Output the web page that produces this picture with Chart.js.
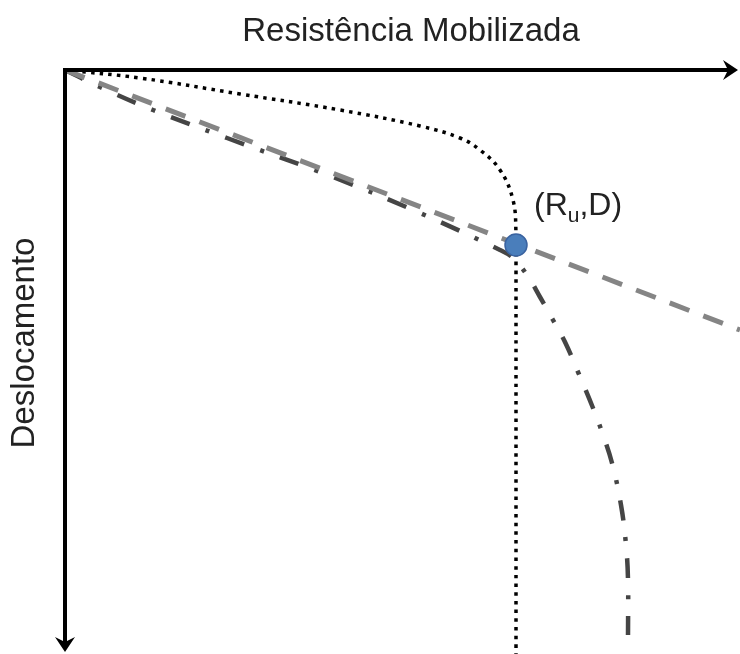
<!DOCTYPE html>
<html>
<head>
<meta charset="utf-8">
<script src="https://cdn.jsdelivr.net/npm/chart.js@4"></script>
<style>
  body { margin: 0; background: #fff; }
  canvas { display: block; }
</style>
</head>
<body>
<canvas id="curvaCarga" width="740" height="654"></canvas>
<script>
// curva pontilhada (hiperbólica, assíntota vertical em Ru)
const dotX = [0, 75, 175, 275, 355, 395, 415, 435, 448, 451, 451, 451];
const dotY = [0, 8, 24, 40, 56, 68, 80, 100, 130, 163, 195, 584];

// curva traço-ponto
const dashDotX = [0, 35, 88, 162, 268, 355, 435, 448, 462, 475, 488, 500, 513, 528, 537, 547, 556, 561, 563, 563];
const dashDotY = [0, 17, 40, 68, 107, 143, 180, 188, 205, 227, 250, 272, 302, 338, 362, 393, 435, 475, 510, 565];

// reta tracejada
const dashX = [0, 675];
const dashY = [0, 260];

// ponto (Ru, D)
const ruX = [451];
const ruY = [175];

const xTitle = 'Resistência Mobilizada';
const yTitle = 'Deslocamento';

const toXY = (xs, ys) => xs.map((x, i) => ({ x: x, y: ys[i] }));

function arrowHead(ctx, x, y, angle) {
    ctx.save();
    ctx.translate(x, y);
    ctx.rotate(angle);
    ctx.beginPath();
    ctx.moveTo(0, 0);
    ctx.lineTo(-15, -10);
    ctx.lineTo(-10, 0);
    ctx.lineTo(-15, 10);
    ctx.closePath();
    ctx.fill();
    ctx.restore();
}

const eixos = {
    id: 'eixos',
    afterDatasetsDraw(chart) {
        const ctx = chart.ctx;
        const xs = chart.scales.x, ys = chart.scales.y;
        const ox = xs.getPixelForValue(0), oy = ys.getPixelForValue(0);
        const xEnd = xs.getPixelForValue(673), yEnd = ys.getPixelForValue(582);
        ctx.save();
        ctx.strokeStyle = '#000';
        ctx.fillStyle = '#000';
        ctx.lineWidth = 4;
        ctx.lineCap = 'butt';
        ctx.beginPath();
        ctx.moveTo(ox - 2, oy);
        ctx.lineTo(xEnd - 8, oy);
        ctx.moveTo(ox, oy - 2);
        ctx.lineTo(ox, yEnd - 8);
        ctx.stroke();
        arrowHead(ctx, xEnd, oy, 0);
        arrowHead(ctx, ox, yEnd, Math.PI / 2);

        ctx.fillStyle = '#222';
        ctx.font = '33px "Liberation Sans", Arial, sans-serif';
        ctx.textAlign = 'center';
        ctx.textBaseline = 'alphabetic';
        ctx.fillText(xTitle, 411, 41);

        ctx.save();
        ctx.translate(25, 343);
        ctx.rotate(-Math.PI / 2);
        ctx.textBaseline = 'middle';
        ctx.fillText(yTitle, 0, 0);
        ctx.restore();

        // rótulo do ponto
        const px = xs.getPixelForValue(ruX[0]), py = ys.getPixelForValue(ruY[0]);
        let tx = px + 18;
        const base = py - 30;
        ctx.textAlign = 'left';
        const big = '32px "Liberation Sans", Arial, sans-serif';
        const small = '21px "Liberation Sans", Arial, sans-serif';
        const parts = [['(R', big, 0], ['u', small, 7], [',D)', big, 0]];
        parts.forEach(p => {
            ctx.font = p[1];
            ctx.fillText(p[0], tx, base + p[2]);
            tx += ctx.measureText(p[0]).width;
        });
        ctx.restore();
    }
};

new Chart(document.getElementById('curvaCarga').getContext('2d'), {
    type: 'scatter',
    data: {
        datasets: [{
            data: toXY(ruX, ruY),
            pointRadius: 11,
            pointBackgroundColor: '#4a7ebb',
            pointBorderColor: '#3a63a0',
            pointBorderWidth: 1.5,
            order: 0
        }, {
            data: toXY(dotX, dotY),
            showLine: true,
            pointRadius: 0,
            borderColor: '#000',
            borderWidth: 3.5,
            borderDash: [3.5, 5.2],
            tension: 0.4,
            order: 3
        }, {
            data: toXY(dashDotX, dashDotY),
            showLine: true,
            pointRadius: 0,
            borderColor: '#454545',
            borderWidth: 4.5,
            borderDash: [20, 17, 4, 17],
            tension: 0.4,
            order: 2
        }, {
            data: toXY(dashX, dashY),
            showLine: true,
            pointRadius: 0,
            borderColor: '#858585',
            borderWidth: 5,
            borderDash: [21, 15],
            order: 1
        }]
    },
    options: {
        responsive: false,
        animation: false,
        layout: { autoPadding: false, padding: { left: 65, top: 70, right: 0, bottom: 0 } },
        plugins: { legend: { display: false }, tooltip: { enabled: false } },
        scales: {
            x: { type: 'linear', min: 0, max: 675, display: false },
            y: { type: 'linear', min: 0, max: 584, reverse: true, display: false }
        }
    },
    plugins: [eixos]
});
</script>
</body>
</html>
